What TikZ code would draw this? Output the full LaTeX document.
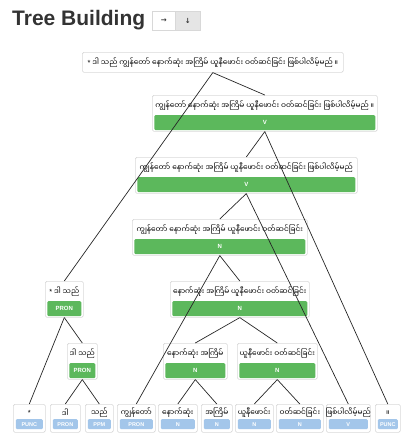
\documentclass[tikz,border=0pt]{standalone}
\usepackage{fontspec}
\setmainfont{Liberation Sans}
\newfontfamily\my[Script=Myanmar]{Noto Sans Myanmar UI}
\newfontfamily\djv{DejaVu Sans}
\usetikzlibrary{calc}
\definecolor{grn}{HTML}{5CB85C}
\definecolor{lblue}{HTML}{A3C6EA}
\definecolor{bord}{HTML}{D8D8D8}
\definecolor{ttl}{HTML}{333333}
\tikzset{
  box/.style={draw=bord, fill=white, rounded corners=1.5pt, line width=0.6pt, inner sep=0pt},
  gbar/.style={fill=grn, rounded corners=1.2pt, inner sep=0pt, text=white, font=\bfseries\fontsize{6}{6}\selectfont},
  lbar/.style={fill=lblue, rounded corners=1.2pt, inner sep=0pt, text=white, font=\bfseries\fontsize{5.5}{5.5}\selectfont},
  txt/.style={inner sep=0pt, font=\my\fontsize{7.4}{8}\selectfont},
  edge/.style={draw=black!85, line width=0.7pt},
  btn/.style={draw=bord, line width=0.6pt, inner sep=0pt, minimum height=19, anchor=north west, font=\djv\bfseries\fontsize{7}{7}\selectfont, text=ttl},
}
% internal node: name, x1, x2, top, text, label
\newcommand\inode[6]{%
  \node[box, minimum width=#3-#2, minimum height=36, anchor=north west] (#1) at (#2,#4) {};
  \node[txt] (#1t) at ($(#1.north)+(0,10.5)$) {#5};
  \node[gbar, minimum width=#3-#2-4, minimum height=15, anchor=north] (#1b) at ($(#1.north)+(0,20)$) {#6};
}
% leaf node: name, x1, x2, text, label
\newcommand\lnode[5]{%
  \node[box, minimum width=#3-#2, minimum height=28, anchor=north west] (#1) at (#2,404) {};
  \node[txt] (#1t) at ($(#1.north)+(0,9)$) {#4};
  \node[lbar, minimum width=#3-#2-5, minimum height=10, anchor=north] (#1b) at ($(#1.north)+(0,15)$) {#5};
}
\begin{document}
\begin{tikzpicture}[x=1pt,y=-1pt]
\useasboundingbox (0,0) rectangle (411,434);
\node[anchor=west, inner sep=0pt, font=\bfseries\fontsize{21}{21}\selectfont, text=ttl] (title) at (12,20) {Tree Building};
\node[btn, fill=white, minimum width=23] (b1) at (152,11) {→};
\node[btn, fill=black!10, minimum width=25] (b2) at (175,11) {↓};
% root
\node[box, minimum width=261, minimum height=20, anchor=north west] (root) at (82,52) {};
\node[txt] (roott) at (root.center) {{\rmfamily *} ဒါ သည် ကျွန်တော် နောက်ဆုံး အကြိမ် ယူနီဖောင်း ဝတ်ဆင်ခြင်း ဖြစ်ပါလိမ့်မည် ။};
\inode{v}{152}{377}{95}{ကျွန်တော် နောက်ဆုံး အကြိမ် ယူနီဖောင်း ဝတ်ဆင်ခြင်း ဖြစ်ပါလိမ့်မည် ။}{V}
\inode{vv}{135}{357}{157}{ကျွန်တော် နောက်ဆုံး အကြိမ် ယူနီဖောင်း ဝတ်ဆင်ခြင်း ဖြစ်ပါလိမ့်မည်}{V}
\inode{na}{132}{307}{219}{ကျွန်တော် နောက်ဆုံး အကြိမ် ယူနီဖောင်း ဝတ်ဆင်ခြင်း}{N}
\inode{nc}{170}{309}{281}{နောက်ဆုံး အကြိမ် ယူနီဖောင်း ဝတ်ဆင်ခြင်း}{N}
\inode{nd}{163}{227}{343}{နောက်ဆုံး အကြိမ်}{N}
\inode{ne}{237}{317}{343}{ယူနီဖောင်း ဝတ်ဆင်ခြင်း}{N}
\inode{pa}{45}{83}{281}{{\rmfamily *} ဒါ သည်}{PRON}
\inode{pb}{67}{97}{343}{ဒါ သည်}{PRON}
% leaves
\lnode{la}{13}{45}{{\rmfamily *}}{PUNC}
\lnode{lb}{50}{80}{ဒါ}{PRON}
\lnode{lc}{85}{113}{သည်}{PPM}
\lnode{ld}{117}{155}{ကျွန်တော်}{PRON}
\lnode{le}{158}{197}{နောက်ဆုံး}{N}
\lnode{lf}{201}{232}{အကြိမ်}{N}
\lnode{lg}{235}{273}{ယူနီဖောင်း}{N}
\lnode{lh}{276}{323}{ဝတ်ဆင်ခြင်း}{N}
\lnode{li}{326}{370}{ဖြစ်ပါလိမ့်မည်}{V}
\lnode{lj}{375}{400}{။}{PUNC}
% edges
\draw[edge] (root.south) -- (pa.north);
\draw[edge] (root.south) -- (v.north);
\draw[edge] (v.south) -- (vv.north);
\draw[edge] (v.south) -- (lj.north);
\draw[edge] (vv.south) -- (na.north);
\draw[edge] (vv.south) -- (li.north);
\draw[edge] (na.south) -- (ld.north);
\draw[edge] (na.south) -- (nc.north);
\draw[edge] (nc.south) -- (nd.north);
\draw[edge] (nc.south) -- (ne.north);
\draw[edge] (nd.south) -- (le.north);
\draw[edge] (nd.south) -- (lf.north);
\draw[edge] (ne.south) -- (lg.north);
\draw[edge] (ne.south) -- (lh.north);
\draw[edge] (pa.south) -- (la.north);
\draw[edge] (pa.south) -- (pb.north);
\draw[edge] (pb.south) -- (lb.north);
\draw[edge] (pb.south) -- (lc.north);
\end{tikzpicture}
\end{document}
